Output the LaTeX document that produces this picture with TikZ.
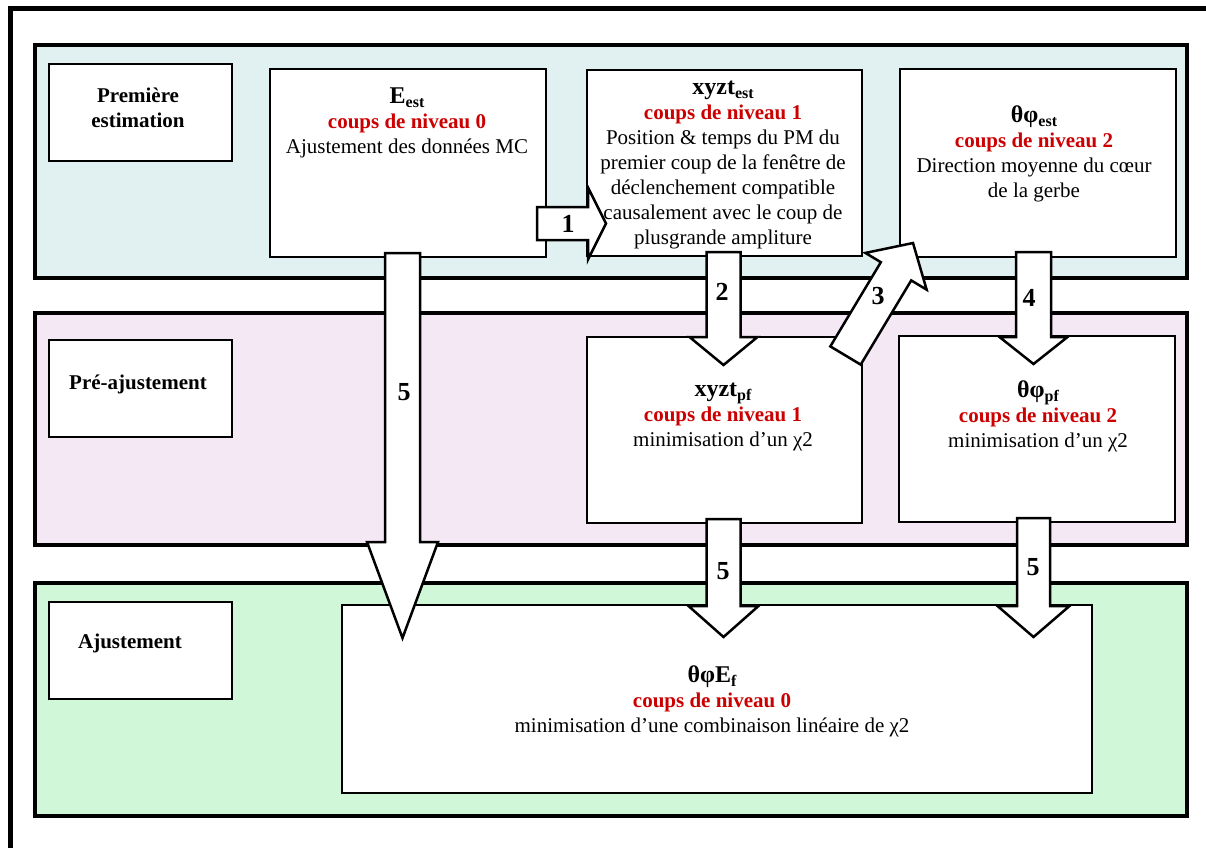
\documentclass[tikz,border=0pt]{standalone}
\usepackage{fontspec}
\setmainfont{Liberation Serif}
\usetikzlibrary{calc}
\definecolor{bandA}{HTML}{E1F0F0}
\definecolor{bandB}{HTML}{F4E8F4}
\definecolor{bandC}{HTML}{CFF7D8}
\definecolor{lvlred}{HTML}{CC0000}
\newcommand\lowsub[1]{\raisebox{-4.5pt}{\fontsize{16}{16}\selectfont #1}}
\newcommand\lvl[1]{\textcolor{lvlred}{\bfseries #1}}
\newcommand\ttl[1]{{\fontsize{24}{25}\selectfont\bfseries #1}}
\newcommand\boxtext[1]{\parbox[t]{600pt}{\centering\fontsize{21}{25}\selectfont #1}}
\newcommand\lbltext[1]{\parbox[t]{180pt}{\centering\fontsize{21}{25}\selectfont\bfseries #1}}
\newcommand\blockarrow[5]{%
  \coordinate (ba-b) at ($(#2)!#5!(#1)$);
  \draw[barrow] ($(#1)!#3!90:(#2)$) -- ($(ba-b)!#3!90:(#2)$) -- ($(ba-b)!#4!90:(#2)$)
    -- (#2) -- ($(ba-b)!#4!-90:(#2)$) -- ($(ba-b)!#3!-90:(#2)$) -- ($(#1)!#3!-90:(#2)$) -- cycle;
}
\begin{document}
\begin{tikzpicture}[x=1pt,y=-1pt,
  band/.style={draw, line width=4pt, rectangle, inner sep=0pt, outer sep=0pt},
  box/.style={draw, fill=white, line width=2.6pt, rectangle, inner sep=0pt, outer sep=0pt},
  lblbox/.style={draw, fill=white, line width=2pt, rectangle, inner sep=0pt, outer sep=0pt},
  txt/.style={anchor=base, inner sep=0pt},
  barrow/.style={draw, fill=white, line width=2.5pt, line join=miter},
  numlbl/.style={font=\fontsize{26}{26}\selectfont\bfseries, inner sep=0pt}]
\useasboundingbox (0,0) rectangle (1206,847);
\begin{scope}
\clip (0,0) rectangle (1206,847);
\draw[line width=5pt] (10.5,8.5) rectangle (1260,900);
\end{scope}

% bands
\node[band, fill=bandA, minimum width=1152pt, minimum height=233pt] (band1) at (611,161.5) {};
\node[band, fill=bandB, minimum width=1152pt, minimum height=232pt] (band2) at (611,429) {};
\node[band, fill=bandC, minimum width=1152pt, minimum height=233pt] (band3) at (611,699.5) {};

% label boxes
\node[lblbox, minimum width=183pt, minimum height=97pt] (prem) at (140.5,112.5) {};
\node[lblbox, minimum width=183pt, minimum height=97pt] (preaj) at (140.5,388.5) {};
\node[lblbox, minimum width=183pt, minimum height=97pt] (aj) at (140.5,650.5) {};
\node[txt] (premtxt) at (138,102) {\lbltext{Première\\estimation}};
\node[txt] (preajtxt) at (138,389) {\lbltext{Pré-ajustement}};
\node[txt] (ajtxt) at (130,648) {\lbltext{Ajustement}};

% content boxes
\node[box, minimum width=276pt, minimum height=188pt] (eest) at (408,163) {};
\node[box, minimum width=275pt, minimum height=186pt] (xyztest) at (724.5,163) {};
\node[box, minimum width=276pt, minimum height=188pt] (tpest) at (1038,163) {};
\node[box, minimum width=275pt, minimum height=186pt] (xyztpf) at (724.5,430) {};
\node[box, minimum width=276pt, minimum height=186pt] (tppf) at (1037,429) {};
\node[box, minimum width=750pt, minimum height=188pt] (final) at (717,699) {};

% texts
\node[txt] (eesttxt) at (407,103) {\boxtext{\ttl{E\lowsub{est}}\\ \lvl{coups de niveau 0}\\ Ajustement des données MC}};
\node[txt] (xyztesttxt) at (723,94) {\boxtext{\ttl{xyzt\lowsub{est}}\\ \lvl{coups de niveau 1}\\ Position \& temps du PM du\\ premier coup de la fenêtre de\\ déclenchement compatible\\ causalement avec le coup de\\ plusgrande ampliture}};
\node[txt] (tpesttxt) at (1034,122) {\boxtext{\ttl{θφ\lowsub{est}}\\ \lvl{coups de niveau 2}\\ Direction moyenne du cœur\\ de la gerbe}};
\node[txt] (xyztpftxt) at (723,396) {\boxtext{\ttl{xyzt\lowsub{pf}}\\ \lvl{coups de niveau 1}\\ minimisation d’un χ2}};
\node[txt] (tppftxt) at (1038,397) {\boxtext{\ttl{θφ\lowsub{pf}}\\ \lvl{coups de niveau 2}\\ minimisation d’un χ2}};
\node[txt] (finaltxt) at (712,682) {\boxtext{\ttl{θφE\lowsub{f}}\\ \lvl{coups de niveau 0}\\ minimisation d’une combinaison linéaire de χ2}};

% arrow end points
\coordinate (a1s) at (537,223.5);   \coordinate (a1e) at (606,223.5);
\coordinate (a2s) at (723.5,252);   \coordinate (a2e) at (723.5,365);
\coordinate (a3s) at (845.5,355.5); \coordinate (a3e) at (913,243);
\coordinate (a4s) at (1033.5,252);  \coordinate (a4e) at (1033.5,364);
\coordinate (a5s) at (402.5,253);   \coordinate (a5e) at (402.5,638);
\coordinate (a6s) at (723.5,519);   \coordinate (a6e) at (723.5,637);
\coordinate (a7s) at (1033.5,518);  \coordinate (a7e) at (1033.5,637);

\blockarrow{a1s}{a1e}{16.5pt}{36pt}{18pt}
\blockarrow{a2s}{a2e}{17pt}{34pt}{28pt}
\blockarrow{a3s}{a3e}{17.7pt}{35.7pt}{33pt}
\blockarrow{a4s}{a4e}{17.5pt}{34pt}{27pt}
\blockarrow{a5s}{a5e}{17.5pt}{35.5pt}{96pt}
\blockarrow{a6s}{a6e}{17pt}{35pt}{31pt}
\blockarrow{a7s}{a7e}{16.5pt}{36pt}{31pt}

% arrow labels
\node[numlbl] (n1) at (568,224) {1};
\node[numlbl] (n2) at (722,292) {2};
\node[numlbl] (n3) at (878,296) {3};
\node[numlbl] (n4) at (1029,298) {4};
\node[numlbl] (n5a) at (404,392) {5};
\node[numlbl] (n5b) at (723,571) {5};
\node[numlbl] (n5c) at (1033,567) {5};
\end{tikzpicture}
\end{document}
